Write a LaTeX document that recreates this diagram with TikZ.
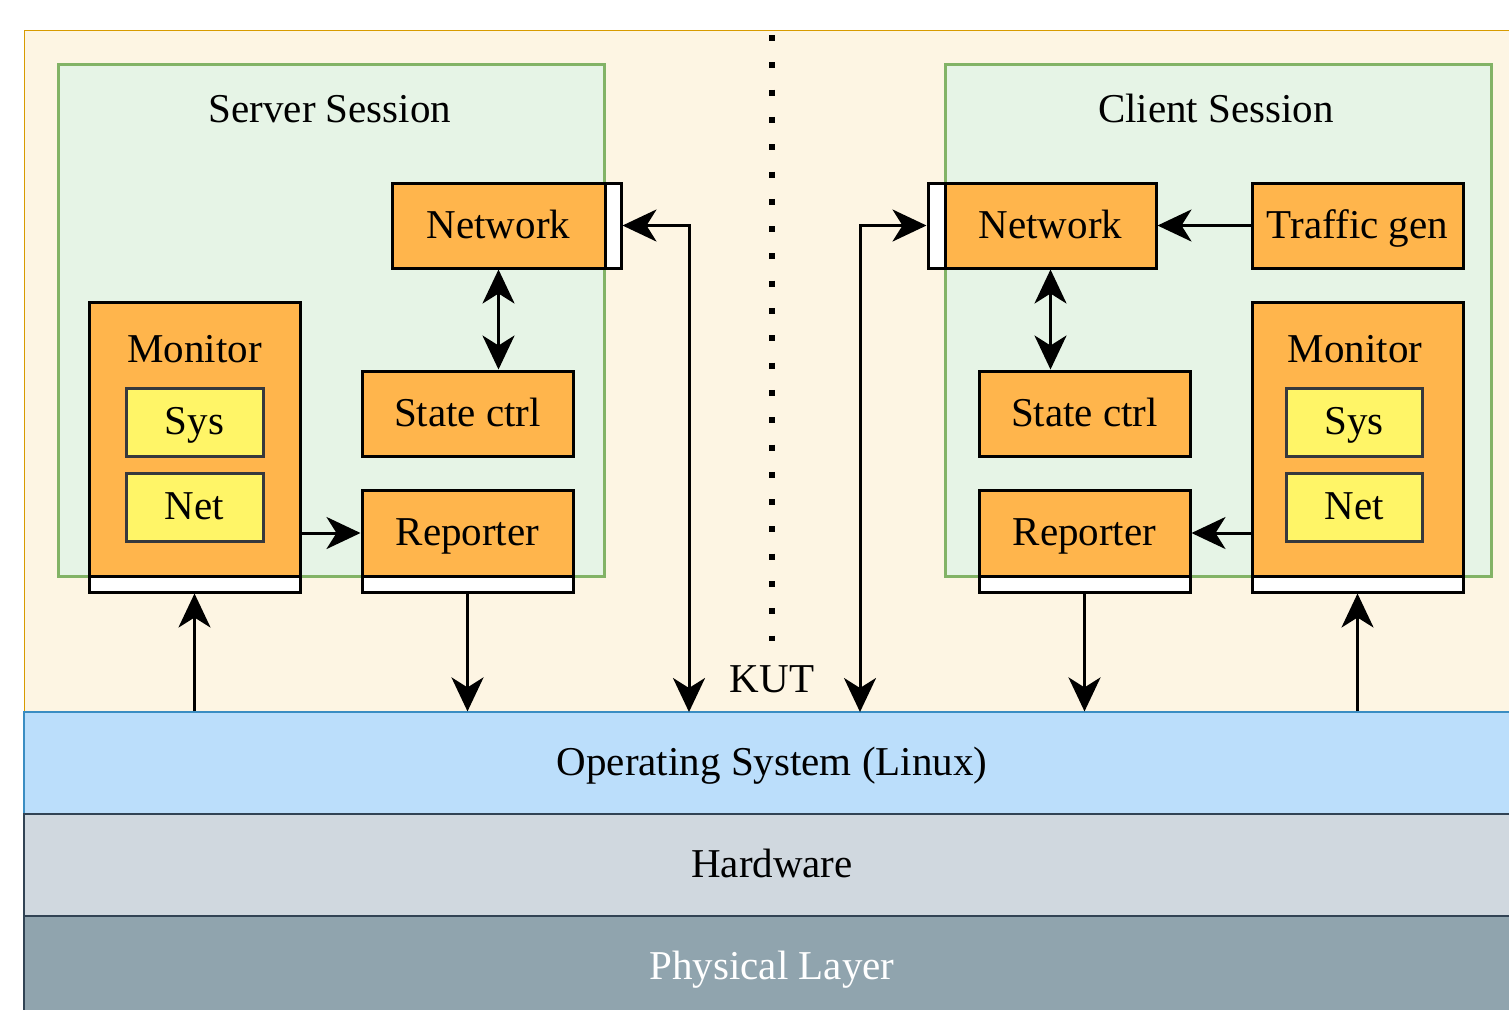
\documentclass[tikz,border=0pt]{standalone}
\usepackage{fontspec}
\setmainfont{Liberation Serif}
\usetikzlibrary{arrows.meta}
\definecolor{beigeF}{HTML}{FDF5E3}
\definecolor{beigeD}{HTML}{D79B00}
\definecolor{greenF}{HTML}{E6F4E6}
\definecolor{greenD}{HTML}{82B366}
\definecolor{orangeF}{HTML}{FFB54C}
\definecolor{yellowF}{HTML}{FFF567}
\definecolor{yellowD}{HTML}{36393D}
\definecolor{osF}{HTML}{BBDEFB}
\definecolor{osD}{HTML}{3A8DC2}
\definecolor{hwF}{HTML}{D0D8DF}
\definecolor{hwD}{HTML}{314354}
\definecolor{phF}{HTML}{90A4AE}
\tikzset{
  txt/.style={font=\fontsize{20.5}{24}\selectfont, inner sep=0pt, text height=12.5pt, text depth=0pt},
  obox/.style={txt, draw=black, line width=1.5pt, fill=orangeF, minimum width=105.5pt, minimum height=42.5pt},
  wstrip/.style={draw=black, line width=1.5pt, fill=white, inner sep=0pt},
  ybox/.style={txt, draw=yellowD, line width=1.5pt, fill=yellowF, minimum width=68.5pt, minimum height=34pt},
  sessbox/.style={draw=greenD, line width=1.5pt, fill=greenF, minimum width=273pt, minimum height=256pt, inner sep=0pt},
  layerbox/.style={txt, minimum width=748pt, minimum height=51pt, line width=0.6pt},
  arr/.style={line width=1.5pt, -{Stealth[length=17pt,width=16pt,inset=5pt]}},
  arrB/.style={line width=1.5pt, {Stealth[length=17pt,width=16pt,inset=5pt]}-{Stealth[length=17pt,width=16pt,inset=5pt]}},
  dotline/.style={line width=3pt, dash pattern=on 3pt off 10.65pt}
}
\begin{document}
\begin{tikzpicture}[x=0.5pt,y=-0.5pt]
\useasboundingbox (0,0) rectangle (1509,1009);
\clip (0,0) rectangle (1509,1009);
% background KUT area
\draw[fill=beigeF, draw=beigeD, line width=0.5pt] (24,30) rectangle (1520,712);
% sessions
\node[sessbox] (ss) at (331,320) {};
\node[sessbox] (cs) at (1218,320) {};
\node[txt] (sstitle) at (330,110) {Server Session};
\node[txt] (cstitle) at (1216,110) {Client Session};
% layers
\node[layerbox, fill=osF, draw=osD] (os) at (772,763) {Operating System (Linux)};
\node[layerbox, fill=hwF, draw=hwD] (hw) at (772,865) {Hardware};
\node[layerbox, fill=phF, draw=hwD, text=white] (ph) at (772,967) {Physical Layer};
% dotted separator
\draw[dotline] (772,35) -- (772,641);
\node[txt] (kut) at (772,680) {KUT};
% server side
\node[obox, minimum width=106.5pt] (snet) at (498.5,225.5) {Network};
\node[wstrip, minimum width=8pt, minimum height=42.5pt] (sstrip) at (613,225.5) {};
\node[obox] (sctrl) at (467.5,413.5) {State ctrl};
\node[obox, minimum height=43pt] (srep) at (467.5,533) {Reporter};
\node[wstrip, minimum width=105.5pt, minimum height=8pt] (srepstrip) at (467.5,584) {};
\node[obox, minimum height=137pt] (smon) at (194.5,439) {};
\node[txt] (smonl) at (194.5,350) {Monitor};
\node[ybox] (ssys) at (194.5,422) {Sys};
\node[ybox] (snetm) at (194.5,507) {Net};
\node[wstrip, minimum width=105.5pt, minimum height=8pt] (smonstrip) at (194.5,584) {};
% client side
\node[obox] (cnet) at (1050.5,225.5) {Network};
\node[wstrip, minimum width=8.5pt, minimum height=42.5pt] (cstrip) at (936.5,225.5) {};
\node[obox] (tg) at (1357.5,225.5) {Traffic gen};
\node[obox] (cctrl) at (1084.5,413.5) {State ctrl};
\node[obox, minimum height=43pt] (crep) at (1084.5,533) {Reporter};
\node[wstrip, minimum width=105.5pt, minimum height=8pt] (crepstrip) at (1084.5,584) {};
\node[obox, minimum height=137pt] (cmon) at (1357.5,439) {};
\node[txt] (cmonl) at (1355,350) {Monitor};
\node[ybox, minimum width=68pt] (csys) at (1354,422) {Sys};
\node[ybox, minimum width=68pt] (cnetm) at (1354,507) {Net};
\node[wstrip, minimum width=105.5pt, minimum height=8pt] (cmonstrip) at (1357.5,584) {};
% coordinates for network-to-OS links
\coordinate (sk) at (689,712);
\coordinate (ck) at (860,712);
% connectors server
\draw[arrB] (snet.south) -- (snet.south |- sctrl.north);
\draw[arr] (smon.east |- srep.west) -- (srep.west);
\draw[arr] (os.north -| smonstrip.south) -- (smonstrip.south);
\draw[arr] (srepstrip.south) -- (srepstrip.south |- os.north);
\draw[arrB] (sstrip.east) -| (sk);
% connectors client
\draw[arrB] (cnet.south) -- (cnet.south |- cctrl.north);
\draw[arr] (tg.west) -- (cnet.east);
\draw[arr] (cmon.west |- crep.east) -- (crep.east);
\draw[arr] (os.north -| cmonstrip.south) -- (cmonstrip.south);
\draw[arr] (crepstrip.south) -- (crepstrip.south |- os.north);
\draw[arrB] (cstrip.west) -| (ck);
\end{tikzpicture}
\end{document}
